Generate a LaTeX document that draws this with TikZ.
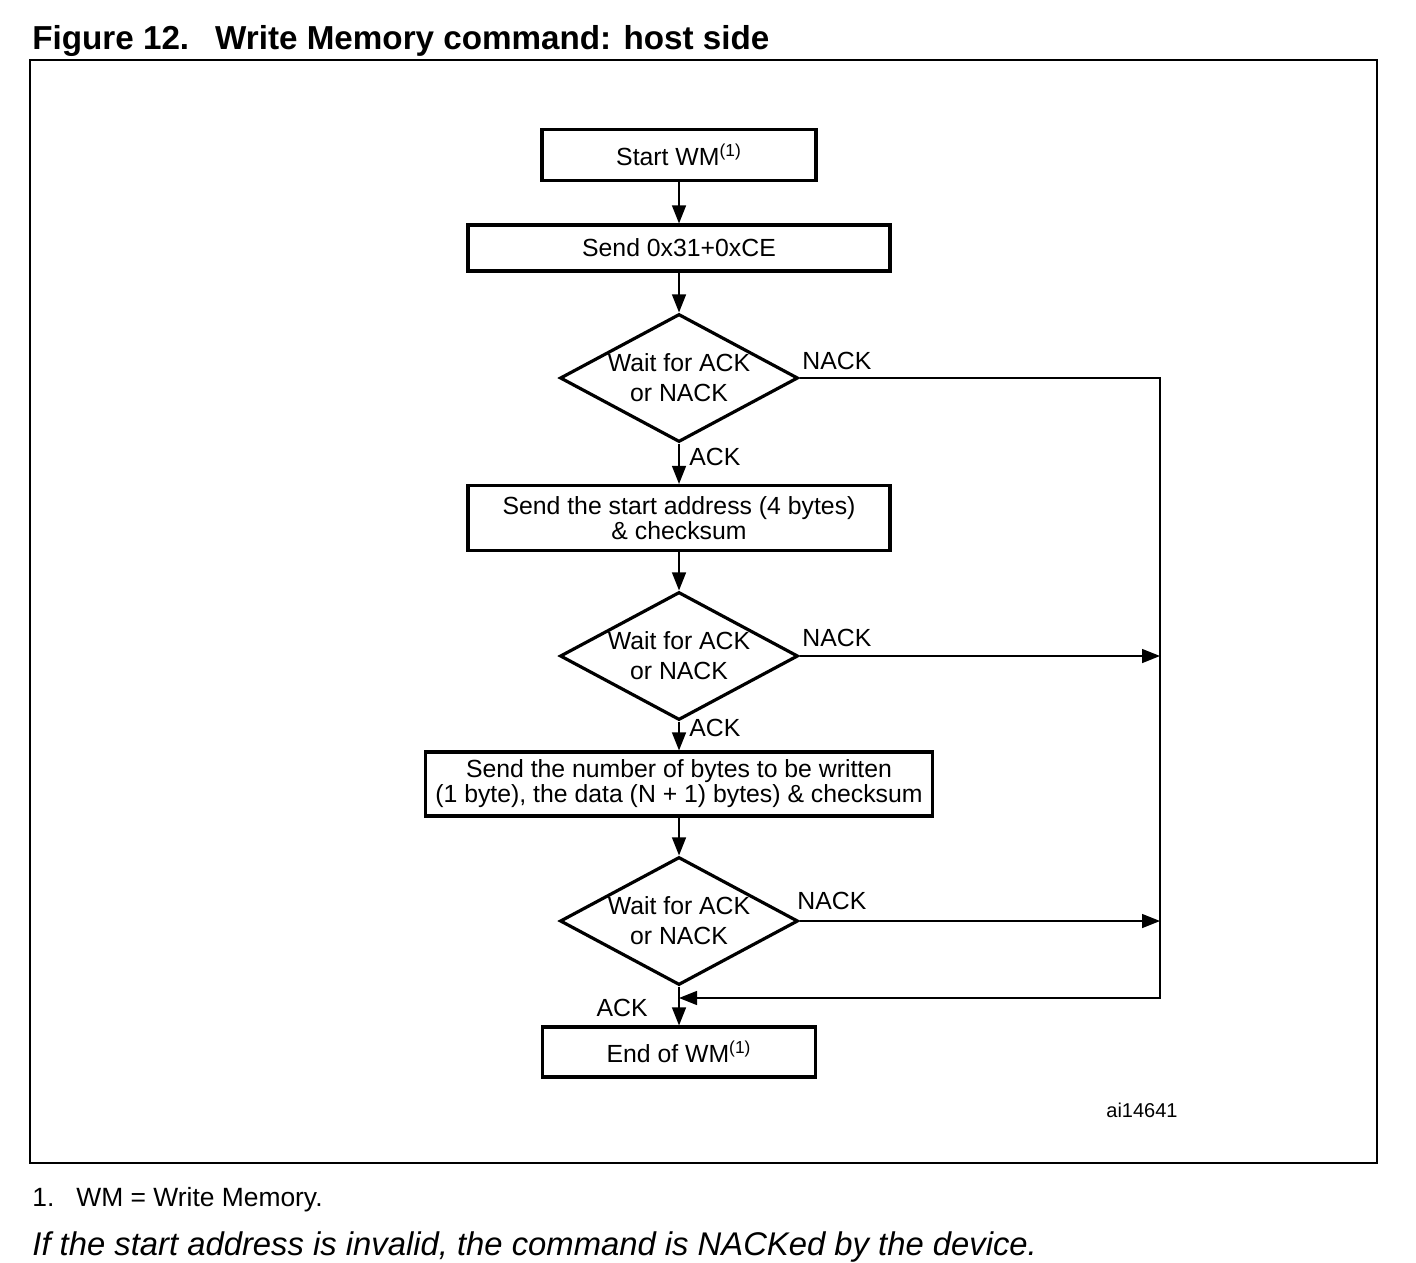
\documentclass[tikz,border=0pt]{standalone}
\usepackage{fontspec}
\setmainfont{Liberation Sans}
\usetikzlibrary{positioning,shapes.geometric,arrows.meta}

\begin{document}
\begin{tikzpicture}[x=0.5pt, y=-0.5pt,
  box/.style={draw, line width=1.6pt, rectangle, inner sep=0pt,
    align=center, font=\fontsize{12.4}{12.5}\selectfont},
  dec/.style={draw, line width=1.6pt, diamond, aspect=1.86, inner sep=0pt,
    minimum width=119pt, minimum height=64pt,
    align=center, font=\fontsize{12.4}{15}\selectfont},
  lbl/.style={inner sep=0pt, font=\fontsize{12.4}{15}\selectfont},
  arr/.style={-{Triangle[length=9pt,width=7pt]}, line width=0.7pt}]
  \useasboundingbox (0,0) rectangle (1416,1262);
  % Caption and frame
  \node[inner sep=0pt, anchor=base west, font=\fontsize{16.6}{18}\selectfont\bfseries]
    (title) at (32,50) {Figure 12.\hspace{13pt}Write Memory command: host side};
  \draw[line width=1pt] (30,60) rectangle (1377,1163);
  % Steps
  \node[box, minimum width=137pt, minimum height=25.5pt] (start) at (679,155)
    {Start WM\textsuperscript{(1)}};
  \node[box, minimum width=211pt, minimum height=23pt] (cmd) at (679,248)
    {Send 0x31+0xCE};
  \node[dec] (d1) at (679,378) {Wait for ACK\\or NACK};
  \node[box, minimum width=211pt, minimum height=32.5pt] (addr) at (679,518)
    {Send the start address (4 bytes)\\\& checksum};
  \node[dec] (d2) at (679,656) {Wait for ACK\\or NACK};
  \node[box, minimum width=253.5pt, minimum height=32pt] (data) at (679,784)
    {Send the number of bytes to be written\\(1 byte), the data (N + 1) bytes) \& checksum};
  \node[dec] (d3) at (679,921) {Wait for ACK\\or NACK};
  \node[box, minimum width=136.5pt, minimum height=25pt] (end) at (679,1052)
    {End of WM\textsuperscript{(1)}};
  % Rail on the right
  \coordinate (rail) at (1160,0);
  \coordinate (ret) at (679,998);
  % Arrows
  \draw[arr] (start) -- (cmd);
  \draw[arr] (cmd) -- (d1);
  \draw[arr] (d1) -- (addr);
  \draw[arr] (addr) -- (d2);
  \draw[arr] (d2) -- (data);
  \draw[arr] (data) -- (d3);
  \draw[arr] (d3) -- (end);
  \draw[arr] (d1.east) -- (d1.east -| rail) -- (rail |- ret) -- (ret);
  \draw[arr] (d2.east) -- (d2.east -| rail);
  \draw[arr] (d3.east) -- (d3.east -| rail);
  % Labels
  \node[lbl, anchor=west] (nack1) at (802,361) {NACK};
  \node[lbl, anchor=west] (nack2) at (802,638) {NACK};
  \node[lbl, anchor=west] (nack3) at (797,901) {NACK};
  \node[lbl, anchor=west] (ack1) at (689,457) {ACK};
  \node[lbl, anchor=west] (ack2) at (689,728) {ACK};
  \node[lbl, anchor=east] (ack3) at (648,1008) {ACK};
  \node[inner sep=0pt, font=\fontsize{10}{12}\selectfont] (ref) at (1142,1110) {ai14641};
  % Notes under the frame
  \node[inner sep=0pt, anchor=base west, font=\fontsize{13.2}{15}\selectfont]
    (note) at (32,1206) {1.\hspace{11pt}WM = Write Memory.};
  \node[inner sep=0pt, anchor=base west, font=\fontsize{16.4}{18}\selectfont\itshape]
    (remark) at (32,1255) {If the start address is invalid, the command is NACKed by the device.};
\end{tikzpicture}
\end{document}
